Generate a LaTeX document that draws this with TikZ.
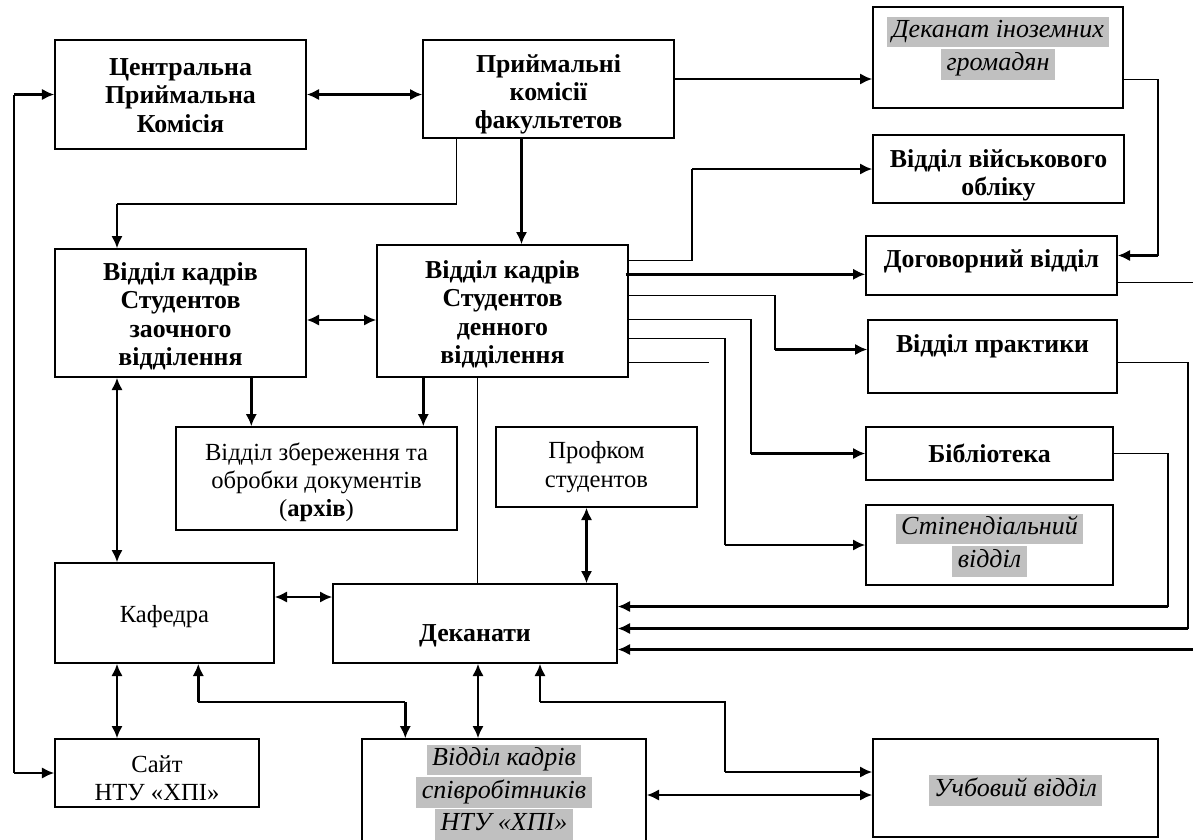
\documentclass[tikz,border=0pt]{standalone}
\usepackage{fontspec}
\setmainfont{Liberation Serif}
\usepackage{xcolor}
\usepackage{tikz}
\usetikzlibrary{arrows.meta}
\usetikzlibrary{fit, calc}
\definecolor{sirij}{HTML}{C0C0C0}
\setlength{\fboxsep}{0.6pt}
\newcommand{\sira}[1]{\colorbox{sirij}{\strut\,#1\,}}

\begin{document}
\begin{tikzpicture}[x=0.02cm, y=-0.02cm,
    box/.style={draw, line width=0.8pt, inner sep=0pt},
    gras/.style={font=\fontsize{14.7}{16.2}\selectfont\bfseries, align=center},
    droit/.style={font=\fontsize{14}{16.2}\selectfont, align=center},
    ital/.style={font=\fontsize{14.8}{16.2}\selectfont\itshape, align=center},
    wire/.style={line width=0.7pt},
    fl/.style={line width=1.4pt, -{Latex[length=7pt,width=6.5pt]}},
    dfl/.style={line width=1.4pt, {Latex[length=7pt,width=6.5pt]}-{Latex[length=7pt,width=6.5pt]}}]
        \useasboundingbox (0,0) rectangle (1193,839);

        % Les blocs
        \node[box, fit={(55,40) (306,149)}] (cpk) {};
        \node[gras] (cpkT) at ($(cpk.north)+(0,56)$) {Центральна\\Приймальна\\Комісія};
        \node[box, fit={(423,40) (674,138)}] (prk) {};
        \node[gras] (prkT) at ($(prk.north)+(0,55)$) {Приймальні\\комісії\\факультетов};
        \node[box, fit={(873,7) (1123,108)}] (dek) {};
        \node[ital] (dekT) at ($(dek.north)+(0,42)$) {\sira{Деканат іноземних}\\\sira{громадян}};
        \node[box, fit={(873,135) (1124,203)}] (vijsk) {};
        \node[gras] (vijskT) at ($(vijsk.north)+(0,41)$) {Відділ військового\\обліку};
        \node[box, fit={(866,236) (1117,295)}] (dogov) {};
        \node[gras] (dogovT) at ($(dogov.north)+(0,26)$) {Договорний відділ};
        \node[box, fit={(55,249) (306,377)}] (zaoch) {};
        \node[gras] (zaochT) at ($(zaoch.north)+(0,68)$) {Відділ кадрів\\Студентов\\заочного\\відділення};
        \node[box, fit={(377,245) (628,377)}] (denn) {};
        \node[gras] (dennT) at ($(denn.north)+(0,70)$) {Відділ кадрів\\Студентов\\денного\\відділення};
        \node[box, fit={(176,427) (457,530)}] (arkh) {};
        \node[droit] (arkhT) at ($(arkh.north)+(0,56)$) {Відділ збереження та\\обробки документів\\(\textbf{архів})};
        \node[box, fit={(496,427) (697,507)}] (prof) {};
        \node[droit] (profT) at ($(prof.north)+(0,41)$) {Профком\\студентов};
        \node[box, fit={(868,320) (1117,393)}] (prakt) {};
        \node[gras] (praktT) at ($(prakt.north)+(0,27)$) {Відділ практики};
        \node[box, fit={(866,427) (1113,480)}] (bibl) {};
        \node[gras] (biblT) at ($(bibl.north)+(0,27)$) {Бібліотека};
        \node[box, fit={(866,505) (1113,585)}] (stip) {};
        \node[ital] (stipT) at ($(stip.north)+(0,41)$) {\sira{Стіпендіальний}\\\sira{відділ}};
        \node[box, fit={(55,563) (274,663)}] (kaf) {};
        \node[droit] (kafT) at ($(kaf.north)+(0,54)$) {Кафедра};
        \node[box, fit={(333,584) (617,663)}] (dekn) {};
        \node[gras] (deknT) at ($(dekn.north)+(0,52)$) {Деканати};
        \node[box, fit={(55,739) (259,807)}] (sajt) {};
        \node[droit] (sajtT) at ($(sajt.north)+(0,40)$) {Сайт\\НТУ «ХПІ»};
        \node[box, fit={(362,739) (646,860)}] (spivr) {};
        \node[ital] (spivrT) at ($(spivr.north)+(0,54)$) {\sira{Відділ кадрів}\\\sira{співробітників}\\\sira{НТУ «ХПІ»}};
        \node[box, fit={(873,739) (1158,837)}] (ucb) {};
        \node[ital] (ucbT) at ($(ucb.north)+(0,52)$) {\sira{Учбовий відділ}};

        % Colonnes et lignes des liaisons
        \coordinate (rail) at (14,0);
        \coordinate (colK) at (117,0);
        \coordinate (colA) at (1158,0);
        \coordinate (colB) at (692,0);
        \coordinate (colC) at (775,0);
        \coordinate (colD) at (751,0);
        \coordinate (colE) at (725,0);
        \coordinate (colF) at (1168,0);
        \coordinate (colG) at (1188,0);
        \coordinate (colH) at (1198,0);
        \coordinate (stub) at (709,0);
        \coordinate (rowA) at (0,204);
        \coordinate (rowB) at (0,702);

        % Rail à gauche
        \draw[wire] (cpk.west -| rail) -- (sajt.west -| rail);
        \draw[fl] (cpk.west -| rail) -- (cpk.west);
        \draw[fl] (sajt.west -| rail) -- (sajt.west);

        % Commissions
        \draw[dfl] (cpk.east) -- (cpk.east -| prk.west);
        \draw[fl] ($(prk.east)+(0,-10)$) coordinate (c3) -- (c3 -| dek.west);
        \draw[wire] ($(prk.south west)+(34,0)$) |- (colK |- rowA);
        \draw[fl] (colK |- rowA) -- (zaoch.north -| colK);
        \draw[fl] ($(prk.south)+(-27,0)$) coordinate (c5) -- (c5 |- denn.north);
        \coordinate (c6) at ($(dogov.east)+(0,-10)$);
        \draw[wire] ($(dek.east)+(0,22)$) -| (colA |- c6);
        \draw[fl] (colA |- c6) -- (c6);

        % Sorties du bloc denn
        \draw[wire] ($(denn.north east)+(0,16)$) -| (colB |- vijsk.west);
        \draw[fl] (colB |- vijsk.west) -- (vijsk.west);
        \draw[fl] ($(denn.north east)+(-3,30)$) coordinate (c8) -- (c8 -| dogov.west);
        \coordinate (c9) at ($(prakt.west)+(0,-7)$);
        \draw[wire] ($(denn.north east)+(0,51)$) -| (colC |- c9);
        \draw[fl] (colC |- c9) -- (c9);
        \draw[wire] ($(denn.north east)+(0,75)$) -| (colD |- bibl.west);
        \draw[fl] (colD |- bibl.west) -- (bibl.west);
        \draw[wire] ($(denn.north east)+(0,94)$) -| (colE |- stip.west);
        \draw[fl] (colE |- stip.west) -- (stip.west);
        \draw[wire] ($(denn.north east)+(0,118)$) coordinate (c12) -- (c12 -| stub);
        \draw[wire] ($(denn.south)+(-25,0)$) coordinate (c13) -- (c13 |- dekn.north);

        % Zaoch, archive, kafedra
        \draw[dfl] ($(zaoch.east)+(0,7)$) coordinate (c14) -- (c14 -| denn.west);
        \draw[fl] ($(zaoch.south west)+(197,0)$) coordinate (c15) -- (c15 |- arkh.north);
        \draw[fl] ($(denn.south west)+(47,0)$) coordinate (c16) -- (c16 |- arkh.north);
        \draw[dfl] (zaoch.south -| colK) -- (kaf.north -| colK);
        \draw[dfl] (kaf.south -| colK) -- (sajt.north -| colK);

        % Autour des dekanaty
        \draw[dfl] ($(prof.south)+(-10,0)$) coordinate (c19) -- (c19 |- dekn.north);
        \draw[dfl] ($(kaf.east)+(0,-16)$) coordinate (c20) -- (c20 -| dekn.west);
        \coordinate (c21a) at ($(kaf.south west)+(144,0)$);
        \coordinate (c21b) at ($(spivr.north west)+(44,0)$);
        \draw[wire] (c21a |- rowB) -- (c21b |- rowB);
        \draw[fl] (c21a |- rowB) -- (c21a);
        \draw[fl] (c21b |- rowB) -- (c21b);
        \draw[dfl] ($(dekn.south)+(3,0)$) coordinate (c22) -- (c22 |- spivr.north);
        \coordinate (c23a) at ($(dekn.south)+(65,0)$);
        \coordinate (c23b) at ($(ucb.west)+(0,-16)$);
        \draw[fl] (c23a |- rowB) -- (c23a);
        \draw[wire] (c23a |- rowB) -| (colE |- c23b);
        \draw[fl] (colE |- c23b) -- (c23b);
        \draw[dfl] ($(ucb.west)+(0,7)$) coordinate (c24) -- (c24 -| spivr.east);

        % Retours vers les dekanaty
        \coordinate (c25) at ($(dekn.east)+(0,-17)$);
        \draw[wire] (bibl.east) -| (colF |- c25);
        \draw[fl] (colF |- c25) -- (c25);
        \coordinate (c26) at ($(dekn.east)+(0,5)$);
        \draw[wire] ($(prakt.east)+(0,6)$) -| (colG |- c26);
        \draw[fl] (colG |- c26) -- (c26);
        \coordinate (c27) at ($(dekn.east)+(0,26)$);
        \draw[wire] ($(dogov.east)+(0,17)$) -| (colH |- c27);
        \draw[fl] (colH |- c27) -- (c27);
    \end{tikzpicture}
\end{document}
